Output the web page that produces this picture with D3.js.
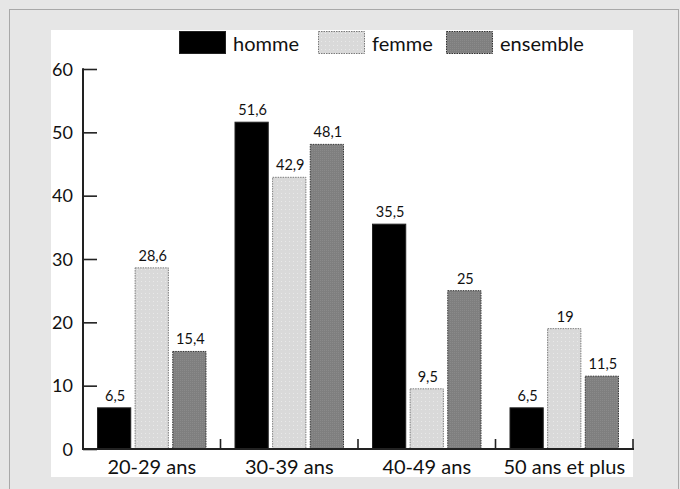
<!DOCTYPE html>
<html><head><meta charset="utf-8">
<script src="https://cdn.jsdelivr.net/npm/d3@7"></script>
<style>html,body{margin:0;padding:0;background:#e6e6e6;}svg{display:block;}</style>
</head><body>
<script>
const categories = ["20-29 ans", "30-39 ans", "40-49 ans", "50 ans et plus"];
const seriesNames = ["homme", "femme", "ensemble"];
const homme = [6.5, 51.6, 35.5, 6.5];
const femme = [28.6, 42.9, 9.5, 19];
const ensemble = [15.4, 48.1, 25, 11.5];
const yTicks = [0, 10, 20, 30, 40, 50, 60];

const W = 680, H = 489;
const svg = d3.select("body").append("svg").attr("width", W).attr("height", H);
const FONT = "Lato, 'Open Sans', sans-serif";
const TXT = "#111";

// patterns
const defs = svg.append("defs");
const pf = defs.append("pattern").attr("id","pFemme").attr("width",4).attr("height",4).attr("patternUnits","userSpaceOnUse");
pf.append("rect").attr("width",4).attr("height",4).attr("fill","#d9d9d9");
pf.append("rect").attr("x",1).attr("y",1).attr("width",1).attr("height",1).attr("fill","#e9e9e9");
const pe = defs.append("pattern").attr("id","pEns").attr("width",2).attr("height",2).attr("patternUnits","userSpaceOnUse");
pe.append("rect").attr("width",2).attr("height",2).attr("fill","#7f7f7f");
pe.append("rect").attr("width",1).attr("height",1).attr("fill","#8a8a8a");

const styles = {
  homme: {fill: "#000", stroke: "#222"},
  femme: {fill: "url(#pFemme)", stroke: "#7a7a7a"},
  ensemble: {fill: "url(#pEns)", stroke: "#333"}
};

// background & frame
svg.append("rect").attr("x",0).attr("y",0).attr("width",W).attr("height",H).attr("fill","#e6e6e6");
svg.append("rect").attr("x",9.5).attr("y",9.5).attr("width",669).attr("height",520)
  .attr("fill","none").attr("stroke","#a8a8a8").attr("stroke-width",1);
svg.append("rect").attr("x",51).attr("y",30).attr("width",582).attr("height",447).attr("fill","#fff");

const x = d3.scaleBand().domain(categories).range([83, 633]).paddingInner(0).paddingOuter(0);
const xs = d3.scaleBand().domain(seriesNames).range([14, x.bandwidth() - 14]).paddingInner(0.09);
const y = d3.scaleLinear().domain([0, 60]).range([449, 69]);

const data = {homme, femme, ensemble};

// bars
const g = svg.append("g");
categories.forEach((c, i) => {
  seriesNames.forEach(s => {
    const v = data[s][i];
    const st = styles[s];
    g.append("rect")
      .attr("x", x(c) + xs(s) + 0.5)
      .attr("y", y(v))
      .attr("width", xs.bandwidth() - 1)
      .attr("height", y(0) - y(v))
      .attr("fill", st.fill)
      .attr("stroke", st.stroke)
      .attr("stroke-width", 1)
      .attr("stroke-dasharray", s === "homme" ? null : "1.5,1");
    g.append("text")
      .attr("x", x(c) + xs(s) + xs.bandwidth()/2 + 1)
      .attr("y", y(v) - 7)
      .attr("text-anchor", "middle")
      .attr("font-family", FONT).attr("font-size", 14.5).attr("fill", TXT)
      .text(String(v).replace(".", ","));
  });
});

// y axis
const yAxis = d3.axisRight(y).tickValues(yTicks).tickSize(14).tickFormat("");
const ya = svg.append("g").attr("transform", "translate(83,0)").call(yAxis);
ya.select(".domain").remove();
ya.selectAll(".tick line").attr("stroke", "#222").attr("stroke-width", 1.6);
svg.append("line").attr("x1",83).attr("x2",83).attr("y1",y(60)-0.8).attr("y2",y(0)+1)
  .attr("stroke","#222").attr("stroke-width",2);
svg.append("g").selectAll("text").data(yTicks).join("text")
  .attr("x", 73).attr("y", d => y(d) + 6.5)
  .attr("text-anchor", "end")
  .attr("font-family", FONT).attr("font-size", 18).attr("fill", TXT)
  .text(d => d);

// x axis
svg.append("line").attr("x1",83).attr("x2",634).attr("y1",449).attr("y2",449)
  .attr("stroke","#222").attr("stroke-width",2);
const xa = svg.append("g").attr("transform","translate(0,449)")
  .call(d3.axisBottom(x).tickSize(0).tickFormat(d => d));
xa.select(".domain").remove();
xa.selectAll(".tick text").attr("font-family", FONT).attr("font-size", 20).attr("fill",TXT)
  .attr("dy", 0).attr("y", 25);
// separator ticks upward
svg.append("g").selectAll("line").data(categories).join("line")
  .attr("x1", d => x(d) + x.bandwidth()).attr("x2", d => x(d) + x.bandwidth())
  .attr("y1", 449).attr("y2", 439)
  .attr("stroke", "#222").attr("stroke-width", 1.6);

// legend
const legX = [179, 318, 446];
const leg = svg.append("g");
seriesNames.forEach((s, i) => {
  const st = styles[s];
  leg.append("rect").attr("x", legX[i] + 0.5).attr("y", 31.5).attr("width", 46).attr("height", 22)
    .attr("fill", st.fill).attr("stroke", st.stroke).attr("stroke-width", 1)
    .attr("stroke-dasharray", s === "homme" ? null : "1.5,1");
  leg.append("text").attr("x", legX[i] + 54).attr("y", 51)
    .attr("font-family", FONT).attr("font-size", 20).attr("fill", TXT).text(s);
});
</script>
</body></html>
